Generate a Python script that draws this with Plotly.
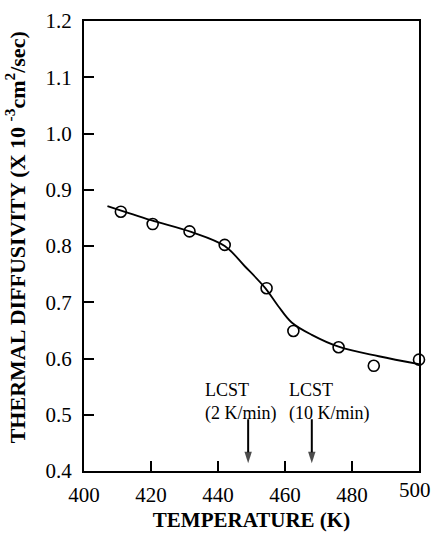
import plotly.graph_objects as go

# Measured thermal diffusivity vs temperature
temperature = [411, 420.5, 431.5, 442, 454.5, 462.5, 476, 486.5, 500]
diffusivity = [0.861, 0.839, 0.826, 0.802, 0.725, 0.649, 0.620, 0.587, 0.598]

# Smoothed trend curve
fit_temperature = [407, 420, 432, 442, 448, 454, 458, 462, 468, 476, 488, 500]
fit_diffusivity = [0.871, 0.846, 0.825, 0.800, 0.764, 0.726, 0.693, 0.664, 0.642,
                   0.621, 0.604, 0.590]

# LCST markers: temperature, arrow span and heating-rate label
lcst_temps = [449, 468]
lcst_arrow_top = 0.492
lcst_arrow_tip = 0.414
lcst_labels = ["LCST<br>(2 K/min)", "LCST<br>(10 K/min)"]
lcst_text_x = [435.5, 460.6]

x_ticks = [400, 420, 440, 460, 480, 500]
y_ticks = [0.4, 0.5, 0.6, 0.7, 0.8, 0.9, 1.0, 1.1, 1.2]

FONT = "Liberation Serif, Times New Roman, serif"

fig = go.Figure()
fig.add_trace(go.Scatter(
    x=fit_temperature, y=fit_diffusivity, mode="lines",
    line=dict(color="black", width=1.8, shape="spline", smoothing=1.0),
    showlegend=False, cliponaxis=False,
))
fig.add_trace(go.Scatter(
    x=temperature, y=diffusivity, mode="markers",
    marker=dict(symbol="circle-open", size=11, color="black", line=dict(width=1.6)),
    showlegend=False, cliponaxis=False,
))

# Downward arrows marking the LCST
for t in lcst_temps:
    fig.add_trace(go.Scatter(
        x=[t, t], y=[lcst_arrow_top, lcst_arrow_tip], mode="lines+markers",
        line=dict(color="black", width=2),
        marker=dict(symbol="arrow", angleref="previous", size=[0, 12], color="black",
                    line=dict(width=0)),
        showlegend=False, cliponaxis=False,
    ))

annotations = []
for lab, tx in zip(lcst_labels, lcst_text_x):
    annotations.append(dict(
        x=tx, y=0.565, xref="x", yref="y", text=lab, showarrow=False, align="left",
        xanchor="left", yanchor="top", font=dict(family=FONT, size=18, color="black"),
    ))

# Last x tick label, nudged inside the page edge
annotations.append(dict(
    x=x_ticks[-1], y=0, xref="x", yref="paper", text=str(x_ticks[-1]), showarrow=False,
    xanchor="center", yanchor="top", xshift=-4, yshift=-5,
    font=dict(family=FONT, size=21, color="black"),
))

# Vertical axis title
annotations.append(dict(
    x=-0.205, y=0.52, xref="paper", yref="paper", textangle=-90, showarrow=False,
    xanchor="center", yanchor="middle",
    text="<b>THERMAL DIFFUSIVITY (X 10 <sup>-3</sup>cm<sup>2</sup>/sec)</b>",
    font=dict(family=FONT, size=22, color="black"),
))

fig.update_layout(
    width=433, height=533,
    margin=dict(l=84, r=14, t=21, b=62, autoexpand=False),
    paper_bgcolor="white", plot_bgcolor="white",
    font=dict(family=FONT, color="black"),
    annotations=annotations,
    xaxis=dict(
        range=[400, 500], tickvals=x_ticks,
        ticktext=[str(v) for v in x_ticks[:-1]] + [""],
        ticks="inside", ticklen=10, tickwidth=1.5, tickcolor="black",
        showline=True, linecolor="black", linewidth=2, mirror=True,
        showgrid=False, zeroline=False, automargin=False,
        tickfont=dict(family=FONT, size=21, color="black"),
        ticklabelstandoff=4,
        title=dict(text="<b>TEMPERATURE (K)</b>", font=dict(family=FONT, size=21, color="black"),
                   standoff=6),
    ),
    yaxis=dict(
        range=[0.4, 1.2], tickvals=y_ticks, ticktext=[f"{v:.1f}" for v in y_ticks],
        ticks="inside", ticklen=10, tickwidth=1.5, tickcolor="black",
        showline=True, linecolor="black", linewidth=2, mirror=True,
        showgrid=False, zeroline=False, automargin=False,
        tickfont=dict(family=FONT, size=21, color="black"),
        ticklabelstandoff=6,
    ),
)

fig.write_html("out.html")
